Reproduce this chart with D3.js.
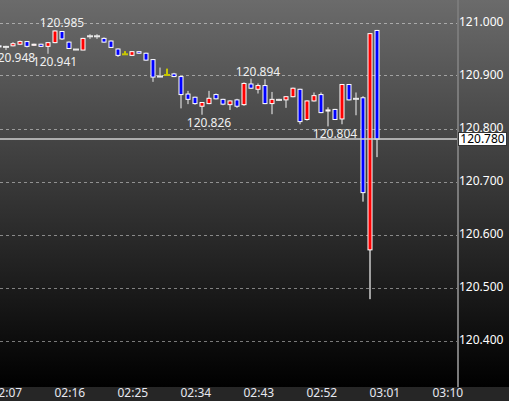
<!DOCTYPE html>
<html>
<head>
<meta charset="utf-8">
<script src="https://cdn.jsdelivr.net/npm/d3@7"></script>
<style>
html,body{margin:0;padding:0;background:#000;overflow:hidden;}
</style>
</head>
<body>
<div id="chart"></div>
<script>
// one-minute bars, 02:06 - 03:00
var times = ["02:06","02:07","02:08","02:09","02:10","02:11","02:12","02:13","02:14","02:15",
             "02:16","02:17","02:18","02:19","02:20","02:21","02:22","02:23","02:24","02:25",
             "02:26","02:27","02:28","02:29","02:30","02:31","02:32","02:33","02:34","02:35",
             "02:36","02:37","02:38","02:39","02:40","02:41","02:42","02:43","02:44","02:45",
             "02:46","02:47","02:48","02:49","02:50","02:51","02:52","02:53","02:54","02:55",
             "02:56","02:57","02:58","02:59","03:00"];
var open  = [120.956,120.954,120.956,120.959,120.964,120.957,120.959,120.955,120.962,120.983,
             120.963,120.949,120.948,120.974,120.974,120.970,120.965,120.950,120.940,120.938,
             120.945,120.942,120.930,120.898,120.901,120.903,120.898,120.865,120.859,120.842,
             120.847,120.864,120.855,120.845,120.854,120.845,120.884,120.874,120.881,120.847,
             120.854,120.854,120.860,120.874,120.817,120.852,120.864,120.833,120.836,120.818,
             120.883,120.856,120.858,120.571,120.985];
var high  = [120.957,120.956,120.963,120.966,120.965,120.960,120.960,120.963,120.985,120.984,
             120.964,120.950,120.971,120.978,120.978,120.972,120.966,120.951,120.946,120.946,
             120.946,120.943,120.931,120.915,120.913,120.905,120.899,120.871,120.860,120.850,
             120.871,120.866,120.856,120.853,120.856,120.887,120.894,120.885,120.893,120.869,
             120.856,120.861,120.877,120.875,120.853,120.868,120.868,120.840,120.837,120.884,
             120.884,120.868,120.861,120.980,120.986];
var low   = [120.953,120.948,120.955,120.958,120.953,120.956,120.954,120.941,120.961,120.967,
             120.950,120.948,120.948,120.969,120.969,120.962,120.952,120.935,120.940,120.937,
             120.941,120.928,120.888,120.897,120.901,120.897,120.838,120.846,120.845,120.826,
             120.846,120.855,120.844,120.835,120.839,120.843,120.875,120.866,120.846,120.827,
             120.852,120.839,120.859,120.808,120.815,120.851,120.829,120.804,120.816,120.808,
             120.853,120.825,120.662,120.478,120.746];
var close = [120.954,120.954,120.960,120.964,120.955,120.959,120.955,120.962,120.984,120.969,
             120.951,120.949,120.970,120.974,120.974,120.963,120.953,120.938,120.940,120.945,
             120.942,120.929,120.897,120.898,120.901,120.898,120.864,120.855,120.847,120.849,
             120.857,120.856,120.846,120.852,120.842,120.885,120.876,120.881,120.847,120.855,
             120.854,120.860,120.876,120.813,120.852,120.862,120.830,120.835,120.817,120.883,
             120.854,120.856,120.679,120.979,120.780];
var yellowBars = [18, 24];
// high/low markers
var markIdx  = [1, 7, 8, 29, 36, 47];
var markType = ["low","low","high","low","high","low"];
var lastPrice = 120.780;
var xTicks = ["02:07","02:16","02:25","02:34","02:43","02:52","03:01","03:10"];
var yTicks = [120.4, 120.5, 120.6, 120.7, 120.8, 120.9, 121.0];

var width = 509, height = 401;
var plotW = 457, plotH = 387;
var font = "'Noto Sans', sans-serif";
var parse = d3.timeParse("%H:%M");
var fmt = d3.format(".3f");

var svg = d3.select("#chart").append("svg")
    .attr("width", width).attr("height", height)
    .style("display", "block");

var defs = svg.append("defs");
var grad = defs.append("linearGradient").attr("id", "bg")
    .attr("x1", 0).attr("y1", 0).attr("x2", 0).attr("y2", 1);
grad.append("stop").attr("offset", "0%").attr("stop-color", "#6b6b6b");
grad.append("stop").attr("offset", "100%").attr("stop-color", "#000");
defs.append("clipPath").attr("id", "clip")
    .append("rect").attr("width", plotW).attr("height", plotH);

svg.append("rect").attr("width", width).attr("height", plotH).attr("fill", "url(#bg)");
svg.append("rect").attr("y", plotH).attr("width", width).attr("height", height - plotH).attr("fill", "#262626");

var x = d3.scaleTime()
    .domain([parse("02:07"), parse("03:10")])
    .range([6.3, 447.3]);
var y = d3.scaleLinear()
    .domain([120.4, 121.0])
    .range([340.5, 22.5]);

// grid
svg.append("g").selectAll("line")
    .data(yTicks).enter().append("line")
    .attr("x1", 0).attr("x2", plotW)
    .attr("y1", function(d){ return Math.round(y(d)) + 0.5; })
    .attr("y2", function(d){ return Math.round(y(d)) + 0.5; })
    .attr("stroke", "rgba(255,255,255,0.45)")
    .attr("stroke-dasharray", "3,3");

var plot = svg.append("g").attr("clip-path", "url(#clip)");

var bars = times.map(function(t, i){
    return {t: parse(t), o: open[i], h: high[i], l: low[i], c: close[i], i: i};
});

function cx(d){ return Math.round(x(d.t)); }

// wicks
plot.selectAll(".wick").data(bars).enter().append("rect")
    .attr("class", "wick")
    .attr("x", function(d){ return cx(d) - 1; })
    .attr("width", 2)
    .attr("y", function(d){ return y(d.h); })
    .attr("height", function(d){ return Math.max(1, y(d.l) - y(d.h)); })
    .attr("fill", function(d){ return yellowBars.indexOf(d.i) >= 0 ? "#c8c800" : "#a0a0a0"; });

// bodies
plot.selectAll(".body").data(bars.filter(function(d){ return d.o != d.c; })).enter().append("rect")
    .attr("class", "body")
    .attr("x", function(d){ return cx(d) - 2; })
    .attr("width", 4)
    .attr("y", function(d){ return y(Math.max(d.o, d.c)); })
    .attr("height", function(d){ return Math.max(1, Math.abs(y(d.o) - y(d.c))); })
    .attr("fill", function(d){ return d.c > d.o ? "#ff0000" : "#0000ff"; })
    .attr("stroke", "#fff")
    .attr("stroke-width", 1);

// doji bars
plot.selectAll(".doji").data(bars.filter(function(d){ return d.o == d.c; })).enter().append("rect")
    .attr("class", "doji")
    .attr("x", function(d){ return cx(d) - 3; })
    .attr("width", 6)
    .attr("y", function(d){ return y(d.c) - 1; })
    .attr("height", 2)
    .attr("fill", function(d){ return yellowBars.indexOf(d.i) >= 0 ? "#c8c800" : "#e8e8e8"; });

// last price line
svg.append("line")
    .attr("x1", 0).attr("x2", plotW)
    .attr("y1", y(lastPrice)).attr("y2", y(lastPrice))
    .attr("stroke", "#d0d0d0").attr("stroke-width", 1.5);

// high / low labels
svg.append("g").selectAll("text")
    .data(markIdx).enter().append("text")
    .attr("x", function(d){ return cx(bars[d]) + 7; })
    .attr("y", function(d, k){
        return markType[k] == "high" ? y(high[d]) - 3 : y(low[d]) + 12;
    })
    .attr("text-anchor", "middle")
    .attr("font-family", font)
    .attr("font-size", "12px")
    .attr("fill", "#f0f0f0")
    .text(function(d, k){ return fmt(markType[k] == "high" ? high[d] : low[d]); });

// separator
svg.append("rect").attr("x", plotW).attr("y", 0).attr("width", 2).attr("height", plotH).attr("fill", "#7a7a7a");

// y axis
var yAxis = svg.append("g")
    .attr("transform", "translate(" + (plotW + 2) + ",0)")
    .call(d3.axisRight(y).tickValues(yTicks).tickFormat(fmt).tickSize(0).tickPadding(0));
yAxis.select(".domain").remove();
yAxis.selectAll("text")
    .attr("dy", "0.22em")
    .attr("font-family", font)
    .attr("font-size", "12px")
    .attr("fill", "#fff");

// x axis
var xAxis = svg.append("g")
    .attr("transform", "translate(0," + plotH + ")")
    .call(d3.axisBottom(x).tickValues(xTicks.map(parse)).tickFormat(d3.timeFormat("%H:%M")).tickSize(0).tickPadding(0));
xAxis.select(".domain").remove();
xAxis.selectAll("text")
    .attr("dy", "0.85em")
    .attr("font-family", font)
    .attr("font-size", "12px")
    .attr("fill", "#e6e8f0");

// last price box
var lp = svg.append("g").attr("transform", "translate(" + (plotW + 1.5) + "," + Math.round(y(lastPrice) - 7) + ")");
lp.append("rect").attr("x", 0).attr("y", 0.5).attr("width", 48).attr("height", 13)
    .attr("fill", "#fff").attr("stroke", "#333");
lp.append("text").attr("x", 24).attr("y", 11)
    .attr("text-anchor", "middle")
    .attr("font-family", font)
    .attr("font-size", "12px")
    .attr("fill", "#000")
    .text(fmt(lastPrice));
</script>
</body>
</html>
